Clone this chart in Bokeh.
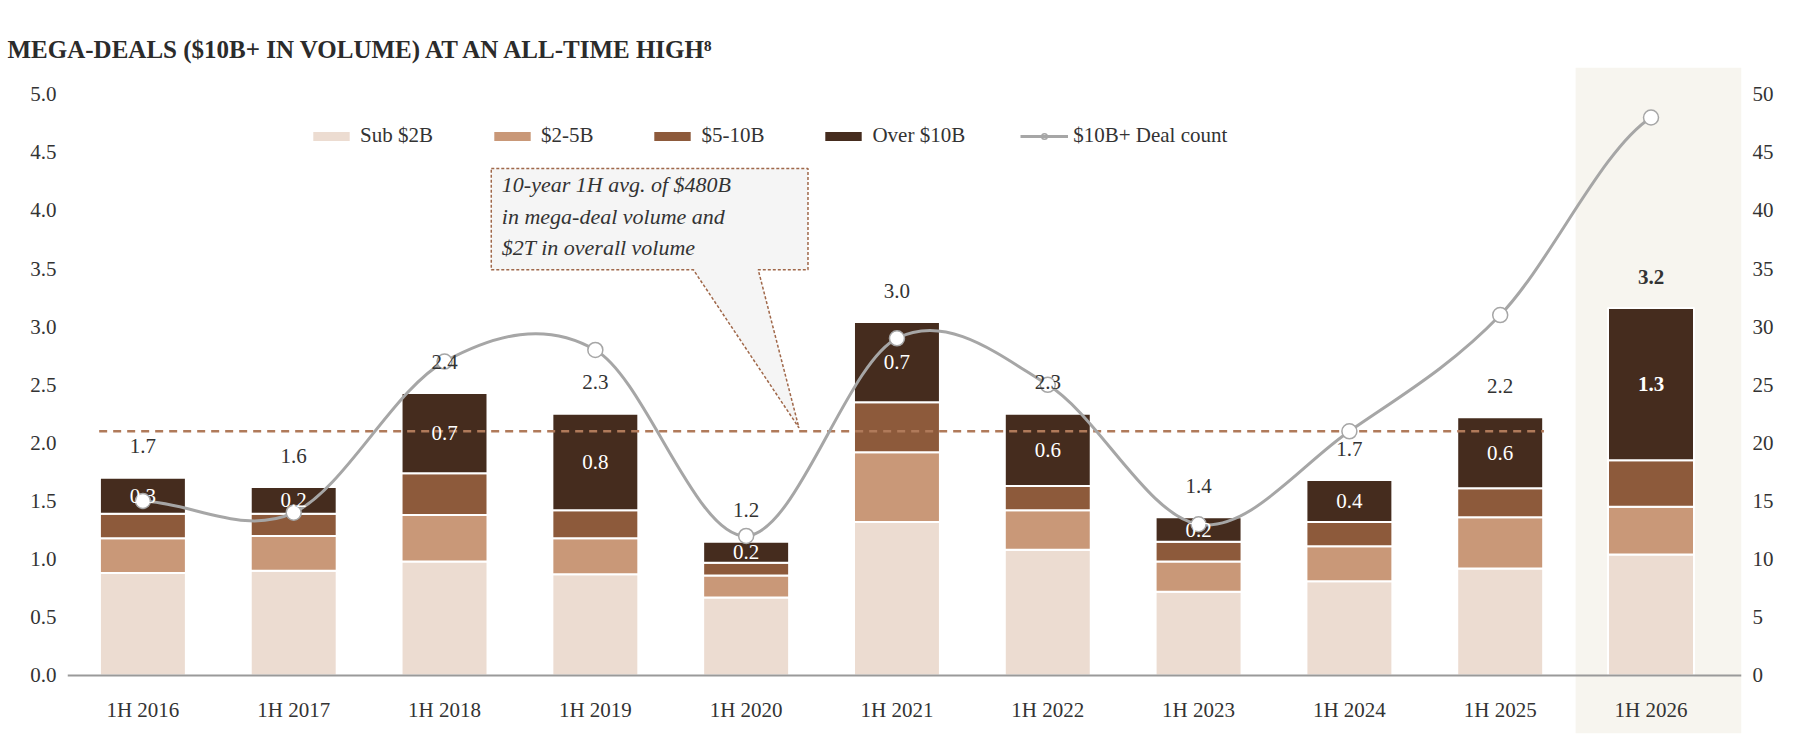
import numpy as np
from bokeh.plotting import figure
from bokeh.models import (Range1d, LinearAxis, FixedTicker, Label, Span, Legend, LegendItem, ColumnDataSource)
from bokeh.core.properties import value
from bokeh.embed import file_html
from bokeh.resources import INLINE

categories = ["1H 2016","1H 2017","1H 2018","1H 2019","1H 2020","1H 2021","1H 2022","1H 2023","1H 2024","1H 2025","1H 2026"]
sub2 = [0.88,0.90,0.98,0.87,0.67,1.32,1.08,0.72,0.81,0.92,1.04]
b2_5 = [0.30,0.30,0.40,0.31,0.19,0.60,0.34,0.26,0.30,0.44,0.41]
b5_10 = [0.21,0.19,0.36,0.24,0.11,0.43,0.21,0.17,0.21,0.25,0.40]
over10 = [0.31,0.23,0.69,0.83,0.18,0.69,0.62,0.21,0.36,0.61,1.31]
total_labels = ["1.7","1.6","2.4","2.3","1.2","3.0","2.3","1.4","1.7","2.2","3.2"]
over_labels = ["0.3","0.2","0.7","0.8","0.2","0.7","0.6","0.2","0.4","0.6","1.3"]
deal_count = [15,14,27,28,12,29,25,13,21,31,48]
avg_line = 2.1

FONT = "Liberation Sans Narrow"
x = np.arange(len(categories))
p = figure(width=1800, height=740, output_backend="svg", toolbar_location=None,
           x_range=Range1d(-0.5, 10.6), y_range=Range1d(-0.5, 5.23),
           min_border_left=67, min_border_right=59, min_border_top=67, min_border_bottom=7)
p.outline_line_color = None
p.xgrid.visible = False; p.ygrid.visible = False
p.xaxis.visible = False
p.yaxis.ticker = FixedTicker(ticks=[0,0.5,1,1.5,2,2.5,3,3.5,4,4.5,5])
p.yaxis.formatter.use_scientific = False
from bokeh.models import CustomJSTickFormatter
p.yaxis.formatter = CustomJSTickFormatter(code="return tick.toFixed(1);")
p.extra_y_ranges = {"cnt": Range1d(-5, 52.3)}
ax2 = LinearAxis(y_range_name="cnt", ticker=FixedTicker(ticks=list(range(0,51,5))))
p.add_layout(ax2, "right")
for ax in [p.yaxis[0], ax2]:
    ax.axis_line_color = None
    ax.major_tick_line_color = None
    ax.minor_tick_line_color = None
    ax.major_label_text_font = FONT
    ax.major_label_text_font_size = "21px"
    ax.major_label_text_color = "#333333"

p.title.text = "MEGA-DEALS ($10B+ IN VOLUME) AT AN ALL-TIME HIGH\u2078"
p.title.text_font = FONT
p.title.text_font_size = "25px"
p.title.text_color = "#2b2b2b"
p.title.offset = -60

# highlight band
p.quad(left=9.5+0.0, right=10.6, bottom=-0.5, top=5.23, fill_color="#f7f5ef", line_color=None)

w = 0.57
cols = ["#ecdcd1", "#c99878", "#8d5a3b", "#452c1e"]
names = ["Sub $2B", "$2-5B", "$5-10B", "Over $10B"]
bottom = np.zeros(len(x))
rends = []
for vals, c in zip([sub2, b2_5, b5_10, over10], cols):
    v = np.array(vals)
    r = p.vbar(x=x, width=w, bottom=bottom, top=bottom+v, fill_color=c, line_color="white", line_width=2)
    rends.append(r)
    bottom = bottom + v
tops = bottom
over_mid = tops - np.array(over10)/2

p.add_layout(Span(location=0, dimension="width", line_color="#9a9a9a", line_width=2))
p.segment(x0=[-0.29], y0=[avg_line], x1=[9.29], y1=[avg_line], line_color="#b07a5a", line_width=2.5, line_dash="8 6")

# callout
bx = [2.31, 4.41, 4.41, 4.08, 4.35, 3.65, 2.31, 2.31]
by = [4.36, 4.36, 3.49, 3.49, 2.13, 3.49, 3.49, 4.36]
p.patch(bx, by, fill_color="#f5f5f5", line_color="#a0684a", line_dash="3 2", line_width=1.5)
for i, t in enumerate(["10-year 1H avg. of $480B", "in mega-deal volume and", "$2T in overall volume"]):
    p.text(x=[2.38], y=[4.22 - i*0.27], text=[t], text_font=value(FONT), text_font_style="italic",
           text_font_size="22px", text_color="#333333", text_baseline="middle")

# smooth deal count line (Catmull-Rom rendered as bezier)
yc = np.array(deal_count, float)
x0 = x[:-1]; x1 = x[1:]; y0 = yc[:-1]; y1 = yc[1:]
ym = np.concatenate([[yc[0]], yc, [yc[-1]]])
cy0 = y0 + (ym[2:-1] - ym[0:-3]) / 6
cy1 = y1 - (ym[3:] - ym[1:-2]) / 6
p.bezier(x0=x0, y0=y0, x1=x1, y1=y1, cx0=x0+1/3, cy0=cy0, cx1=x1-1/3, cy1=cy1,
         line_color="#a6a6a6", line_width=3, y_range_name="cnt")
mk = p.scatter(x, yc, size=15, fill_color="white", line_color="#a6a6a6", line_width=1.5, y_range_name="cnt")
ln = p.line([0], [0], line_color="#a6a6a6", line_width=3, visible=True, alpha=0)

bold = ["normal"]*10 + ["bold"]
p.text(x=x, y=tops+0.28, text=total_labels, text_align="center", text_baseline="middle",
       text_font=value(FONT), text_font_size="21px", text_color="#333333",
       text_font_style=None, source=None) if False else None
src = ColumnDataSource(dict(x=x, yt=tops+0.27, ym=over_mid, tl=total_labels, ol=over_labels, fs=bold))
p.text(x="x", y="yt", text="tl", text_font_style="fs", source=src, text_align="center", text_baseline="middle",
       text_font=value(FONT), text_font_size="21px", text_color="#333333")
p.text(x="x", y="ym", text="ol", text_font_style="fs", source=src, text_align="center", text_baseline="middle",
       text_font=value(FONT), text_font_size="21px", text_color="white")
p.text(x=x, y=[-0.3]*len(x), text=categories, text_align="center", text_baseline="middle",
       text_font=value(FONT), text_font_size="21px", text_color="#333333")

p.add_layout(Label(x=-0.78, y=5.38, text="($T)", text_font=FONT, text_font_size="21px", text_color="#333333"))
p.add_layout(Label(x=10.7, y=5.38, text="(#)", text_font=FONT, text_font_size="21px", text_color="#333333"))

items = [LegendItem(label=n, renderers=[r]) for n, r in zip(names, rends)]
items.append(LegendItem(label="$10B+ Deal count", renderers=[mk, p.line(x, yc, line_color="#a6a6a6", line_width=3, y_range_name="cnt", visible=False)]))
leg = Legend(items=items, orientation="horizontal", location=(240, 585), spacing=55,
             glyph_width=48, glyph_height=14, label_text_font=FONT, label_text_font_size="21px",
             label_text_color="#333333", background_fill_alpha=0, border_line_color=None)
p.add_layout(leg, "center")

open("out.html", "w").write(file_html(p, INLINE))
